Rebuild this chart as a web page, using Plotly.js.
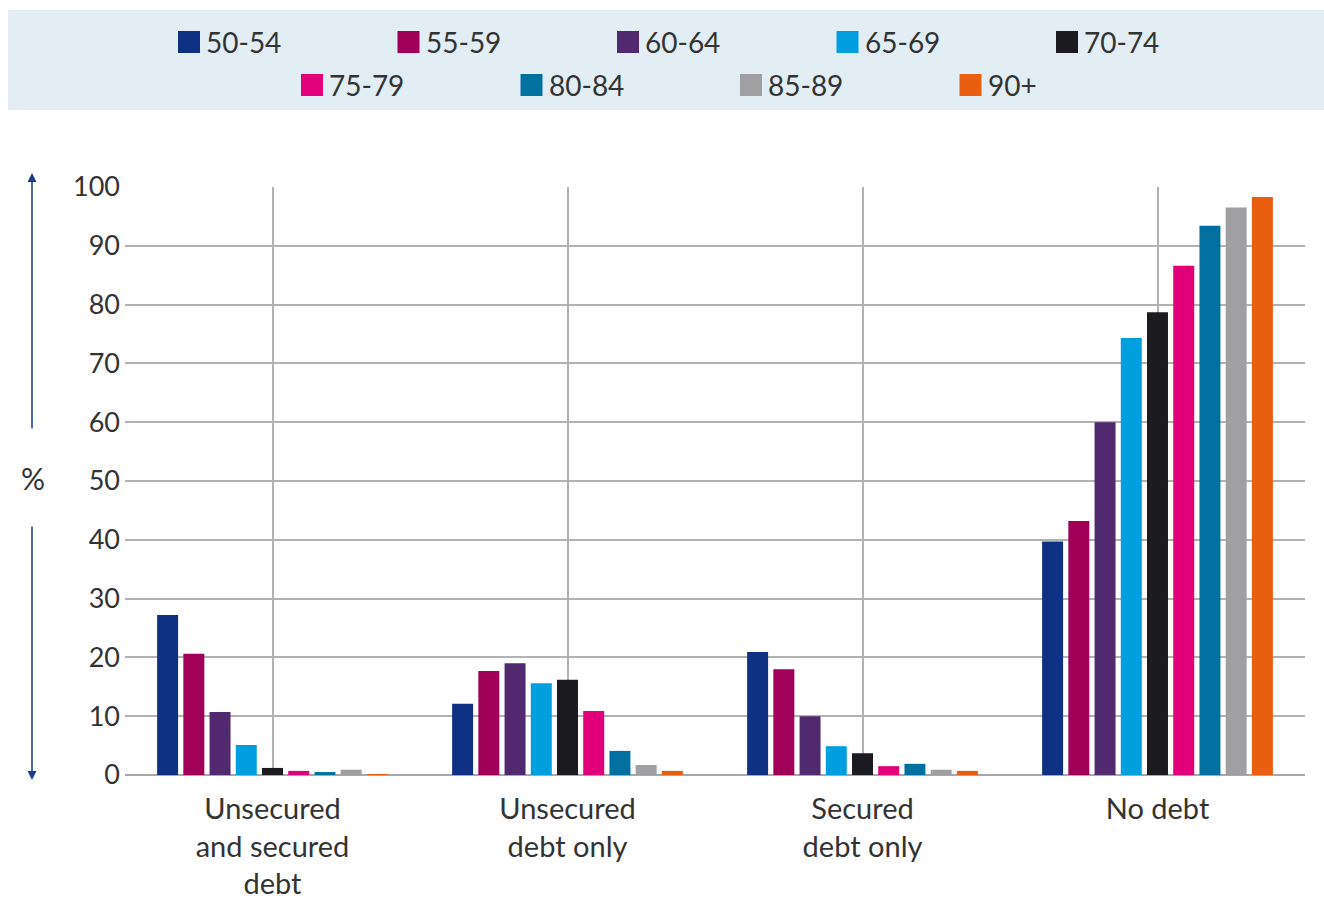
<!DOCTYPE html>
<html>
<head>
<meta charset="utf-8">
<script src="https://cdn.plot.ly/plotly-3.0.1.min.js"></script>
<style>
  html, body { margin: 0; padding: 0; background: #fff; }
  #chart { width: 1324px; height: 899px; }
</style>
</head>
<body>
<div id="chart"></div>
<script>
// Debt status categories (x axis)
const categories = [
  'Unsecured<br>and secured<br>debt',
  'Unsecured<br>debt only',
  'Secured<br>debt only',
  'No debt'
];

// Age bands, one bar series each
const ageBands = ['50-54', '55-59', '60-64', '65-69', '70-74', '75-79', '80-84', '85-89', '90+'];

// Share of people (%) per debt status, by age band
const age50_54 = [27.2, 12.1, 20.9, 39.7];
const age55_59 = [20.6, 17.7, 18.0, 43.2];
const age60_64 = [10.7, 19.0, 10.0, 60.0];
const age65_69 = [5.1, 15.6, 4.9, 74.3];
const age70_74 = [1.2, 16.2, 3.7, 78.7];
const age75_79 = [0.7, 10.9, 1.5, 86.6];
const age80_84 = [0.5, 4.1, 1.9, 93.4];
const age85_89 = [0.9, 1.7, 0.9, 96.5];
const age90plus = [0.1, 0.7, 0.7, 98.3];

const seriesValues = [age50_54, age55_59, age60_64, age65_69, age70_74, age75_79, age80_84, age85_89, age90plus];

const barColors = ['#0e3183', '#a10058', '#51296e', '#009fe0', '#1c1b20', '#e2007a', '#0070a1', '#a0a0a2', '#e95e0f'];

const yTicks = [0, 10, 20, 30, 40, 50, 60, 70, 80, 90, 100];

const textColor = '#333333';
const fontFamily = 'Lato, "Open Sans", sans-serif';

// Page geometry (pixels) used to place the key above the plot
const W = 1324, H = 899;
const M = { l: 125, r: 19, t: 187, b: 124 };
const plotW = W - M.l - M.r;
const plotH = H - M.t - M.b;
const px2x = px => (px - M.l) / plotW;
const px2y = py => (H - M.b - py) / plotH;

// Key: five entries on the first row, four on the second, each row centred
const keyRows = [
  { start: 178, y: 42, items: [0, 1, 2, 3, 4] },
  { start: 301, y: 85, items: [5, 6, 7, 8] }
];
const keyStep = 219.5, swatch = 22, swatchGap = 4;

const traces = ageBands.map((band, i) => ({
  type: 'bar',
  name: band,
  x: categories,
  y: seriesValues[i],
  marker: { color: barColors[i], line: { width: 0 } },
  hoverinfo: 'x+y+name'
}));

const shapes = [
  {
    // light band behind the key
    type: 'rect', xref: 'paper', yref: 'paper',
    x0: px2x(8), x1: px2x(1330), y0: px2y(110), y1: px2y(10),
    fillcolor: '#e2edf4', line: { width: 0 }, layer: 'below'
  }
];

const annotations = [
  {
    text: '%', xref: 'paper', yref: 'paper',
    x: px2x(33), y: px2y(478), xanchor: 'center', yanchor: 'middle',
    showarrow: false, font: { family: fontFamily, size: 30, color: textColor }
  },
  {
    // upward arrow
    text: '', xref: 'paper', yref: 'paper',
    x: px2x(32), y: px2y(173), ax: 0, ay: 257,
    showarrow: true, arrowhead: 2, arrowsize: 1.2, arrowwidth: 1.5, arrowcolor: '#1a3d8f',
    standoff: 0, startstandoff: 0
  },
  {
    // downward arrow
    text: '', xref: 'paper', yref: 'paper',
    x: px2x(32), y: px2y(780), ax: 0, ay: -255,
    showarrow: true, arrowhead: 2, arrowsize: 1.2, arrowwidth: 1.5, arrowcolor: '#1a3d8f',
    standoff: 0, startstandoff: 0
  }
];

keyRows.forEach(row => {
  row.items.forEach((idx, k) => {
    const left = row.start + k * keyStep;
    shapes.push({
      type: 'rect', xref: 'paper', yref: 'paper',
      x0: px2x(left), x1: px2x(left + swatch),
      y0: px2y(row.y + swatch / 2), y1: px2y(row.y - swatch / 2),
      fillcolor: barColors[idx], line: { width: 0 }
    });
    annotations.push({
      text: ageBands[idx], xref: 'paper', yref: 'paper',
      x: px2x(left + swatch + swatchGap), y: px2y(row.y),
      xanchor: 'left', yanchor: 'middle', showarrow: false,
      font: { family: fontFamily, size: 28, color: textColor }
    });
  });
});

const layout = {
  width: W,
  height: H,
  margin: M,
  paper_bgcolor: '#ffffff',
  plot_bgcolor: '#ffffff',
  font: { family: fontFamily, color: textColor, size: 27 },
  barmode: 'group',
  bargap: 0.2,
  bargroupgap: 0.2,
  showlegend: false,
  xaxis: {
    type: 'category',
    showgrid: true,
    gridcolor: '#b2b2b2',
    gridwidth: 1.5,
    showline: false,
    zeroline: false,
    ticks: '',
    ticklabelstandoff: 14,
    tickfont: { family: fontFamily, size: 29, color: textColor },
    fixedrange: true
  },
  yaxis: {
    range: [0, 100],
    tickvals: yTicks,
    ticktext: yTicks.map(String),
    showgrid: true,
    gridcolor: '#b2b2b2',
    gridwidth: 1.5,
    zeroline: true,
    zerolinecolor: '#a8a8a8',
    zerolinewidth: 2,
    showline: false,
    ticks: '',
    ticklabelstandoff: 4,
    tickfont: { family: fontFamily, size: 27, color: textColor },
    fixedrange: true
  },
  shapes: shapes,
  annotations: annotations
};

Plotly.newPlot('chart', traces, layout, { displayModeBar: false });
</script>
</body>
</html>
